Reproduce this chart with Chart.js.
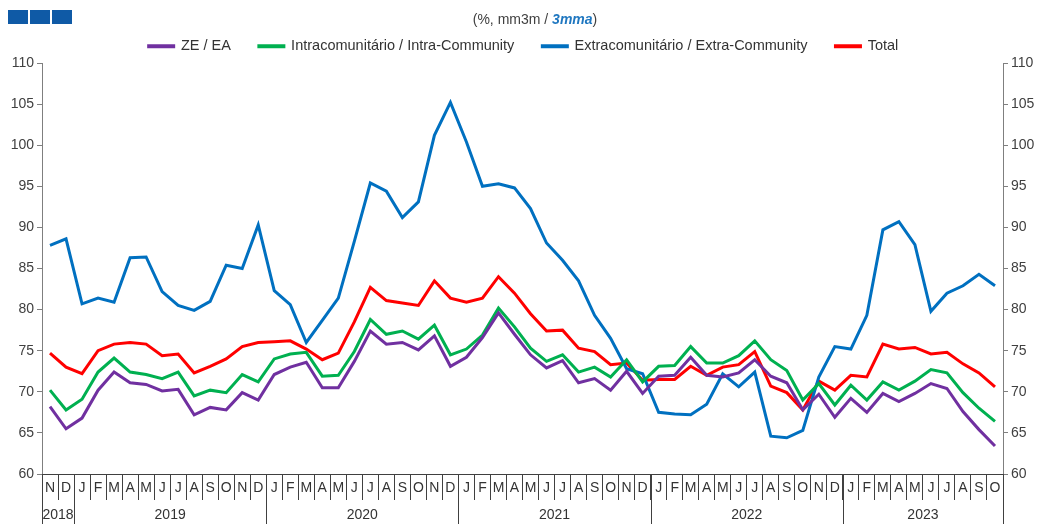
<!DOCTYPE html>
<html><head><meta charset="utf-8">
<script src="https://cdn.jsdelivr.net/npm/chart.js@4"></script>
<style>
html,body{margin:0;padding:0;background:#fff;}
#wrap{position:relative;width:1047px;height:524px;overflow:hidden;}
canvas{position:absolute;left:0;top:0;}
.sq{position:absolute;top:10px;width:20px;height:14px;background:#0f5aa6;}
#sub{position:absolute;top:11px;left:0;width:1070px;text-align:center;font:14px 'Liberation Sans',Arial,sans-serif;color:#404040;}
#sub b{color:#1f77c0;font-style:italic;}
</style></head>
<body><div id="wrap">
<canvas id="c" width="1047" height="524" style="width:1047px;height:524px"></canvas>
<div class="sq" style="left:8px"></div>
<div class="sq" style="left:30px"></div>
<div class="sq" style="left:52px"></div>
<div id="sub">(%, mm3m / <b>3mma</b>)</div>
</div>
<script>
const categories = ['2018-11','2018-12',
 '2019-01','2019-02','2019-03','2019-04','2019-05','2019-06','2019-07','2019-08','2019-09','2019-10','2019-11','2019-12',
 '2020-01','2020-02','2020-03','2020-04','2020-05','2020-06','2020-07','2020-08','2020-09','2020-10','2020-11','2020-12',
 '2021-01','2021-02','2021-03','2021-04','2021-05','2021-06','2021-07','2021-08','2021-09','2021-10','2021-11','2021-12',
 '2022-01','2022-02','2022-03','2022-04','2022-05','2022-06','2022-07','2022-08','2022-09','2022-10','2022-11','2022-12',
 '2023-01','2023-02','2023-03','2023-04','2023-05','2023-06','2023-07','2023-08','2023-09','2023-10'];
const monthTicks = ['N','D',
 'J','F','M','A','M','J','J','A','S','O','N','D',
 'J','F','M','A','M','J','J','A','S','O','N','D',
 'J','F','M','A','M','J','J','A','S','O','N','D',
 'J','F','M','A','M','J','J','A','S','O','N','D',
 'J','F','M','A','M','J','J','A','S','O'];
const yearLabels = ['2018','2019','2020','2021','2022','2023'];
const yTicks = [60,65,70,75,80,85,90,95,100,105,110];

const zeEa = [68.2,65.5,66.8,70.2,72.4,71.1,70.9,70.1,70.3,67.2,68.1,67.8,69.9,69.0,72.1,73.0,73.6,70.5,70.5,73.7,77.4,75.8,76.0,75.1,76.8,73.1,74.2,76.6,79.6,77.0,74.5,72.9,73.8,71.1,71.6,70.2,72.5,69.8,71.9,72.0,74.2,72.0,71.8,72.3,73.9,71.9,71.1,67.8,69.7,66.9,69.2,67.5,69.8,68.8,69.8,71.0,70.4,67.6,65.4,63.4];
const intra = [70.2,67.8,69.1,72.4,74.1,72.4,72.1,71.6,72.4,69.5,70.2,69.9,72.1,71.2,74.0,74.6,74.8,71.9,72.0,74.9,78.8,77.0,77.4,76.4,78.1,74.5,75.2,76.9,80.2,77.9,75.3,73.7,74.5,72.4,73.0,71.8,73.9,71.2,73.1,73.2,75.5,73.5,73.5,74.4,76.2,73.9,72.6,69.0,71.0,68.4,70.8,69.0,71.2,70.2,71.3,72.7,72.3,69.9,68.0,66.4];
const extra = [87.8,88.6,80.7,81.4,80.9,86.3,86.4,82.2,80.5,79.9,81.0,85.4,85.0,90.3,82.3,80.6,76.0,78.7,81.4,88.3,95.4,94.4,91.2,93.1,101.2,105.2,100.4,95.0,95.3,94.8,92.3,88.1,86.0,83.5,79.3,76.5,72.8,72.2,67.5,67.3,67.2,68.5,72.2,70.6,72.4,64.6,64.4,65.3,71.8,75.5,75.2,79.3,89.7,90.7,87.9,79.8,82.0,82.9,84.3,82.9];
const total = [74.7,73.0,72.2,75.0,75.8,76.0,75.8,74.4,74.6,72.3,73.1,74.0,75.5,76.0,76.1,76.2,75.2,73.9,74.7,78.5,82.7,81.1,80.8,80.5,83.5,81.4,80.9,81.4,84.0,82.0,79.5,77.4,77.5,75.3,74.9,73.3,73.5,71.4,71.5,71.5,73.1,72.0,73.0,73.3,74.9,70.7,69.9,67.8,71.3,70.2,72.0,71.8,75.8,75.2,75.4,74.6,74.8,73.4,72.3,70.6];

const FONT = "'Liberation Sans', Arial, sans-serif";

const yearRow = {
  id: 'yearRow',
  afterDraw(chart) {
    const ctx = chart.ctx, xs = chart.scales.x, area = chart.chartArea;
    const top = area.bottom, bottom = chart.height;
    ctx.save();
    ctx.strokeStyle = '#404040';
    ctx.lineWidth = 1;
    ctx.fillStyle = '#333';
    ctx.font = '14px ' + FONT;
    ctx.textAlign = 'center';
    ctx.textBaseline = 'middle';
    const line = x => { ctx.beginPath(); ctx.moveTo(Math.round(x)+0.5, top); ctx.lineTo(Math.round(x)+0.5, bottom); ctx.stroke(); };
    line(area.left);
    line(area.right);
    yearLabels.forEach((yr) => {
      const idx = categories.map((c,i)=>c.startsWith(yr)?i:-1).filter(i=>i>=0);
      const first = idx[0], last = idx[idx.length-1];
      const x0 = xs.getPixelForValue(first), x1 = xs.getPixelForValue(last);
      ctx.fillText(yr, (x0+x1)/2, 515);
      if (last < categories.length-1) {
        line((x1 + xs.getPixelForValue(last+1))/2);
      }
    });
    ctx.restore();
  }
};

const yCommon = (pos) => ({
  type: 'linear', position: pos, min: 60, max: 110,
  afterBuildTicks: s => { s.ticks = yTicks.map(v => ({value: v})); },
  ticks: { color: '#404040', font: {size: 14, family: FONT}, padding: 3 },
  grid: { drawOnChartArea: false, drawTicks: true, tickLength: 5, color: '#7f7f7f' },
  border: { display: true, color: '#7f7f7f', width: 1 },
  afterFit: s => { s.width = pos === 'left' ? 42 : 44; }
});

new Chart(document.getElementById('c'), {
  type: 'line',
  data: {
    labels: categories,
    datasets: [
      {label: 'ZE / EA', data: zeEa, borderColor: '#7030a0', backgroundColor: '#7030a0'},
      {label: 'Intracomunitário / Intra-Community', data: intra, borderColor: '#00b050', backgroundColor: '#00b050'},
      {label: 'Extracomunitário / Extra-Community', data: extra, borderColor: '#0070c0', backgroundColor: '#0070c0'},
      {label: 'Total', data: total, borderColor: '#ff0000', backgroundColor: '#ff0000'}
    ].map(d => Object.assign(d, {borderWidth: 3, pointRadius: 0, tension: 0, fill: false, yAxisID: 'y'}))
  },
  options: {
    responsive: false, animation: false, devicePixelRatio: 1,
    layout: { padding: { top: 11, left: 0, right: 0, bottom: 0 } },
    plugins: {
      legend: {
        position: 'top', maxHeight: 52,
        labels: { boxWidth: 25, boxHeight: 1, padding: 28, color: '#333', font: {size: 14.5, family: FONT} }
      },
      tooltip: { enabled: false }
    },
    scales: {
      x: {
        type: 'category', offset: true,
        ticks: { autoSkip: false, maxRotation: 0, minRotation: 0, color: '#333', font: {size: 14, family: FONT}, padding: -20,
                 callback: (v, i) => monthTicks[i] },
        grid: { offset: true, drawOnChartArea: false, drawTicks: true, tickLength: 26, color: '#404040' },
        border: { display: true, color: '#404040', width: 1 },
        afterFit: s => { s.height = 50; }
      },
      y: yCommon('left'),
      y2: yCommon('right')
    }
  },
  plugins: [yearRow]
});
</script>
</body></html>
